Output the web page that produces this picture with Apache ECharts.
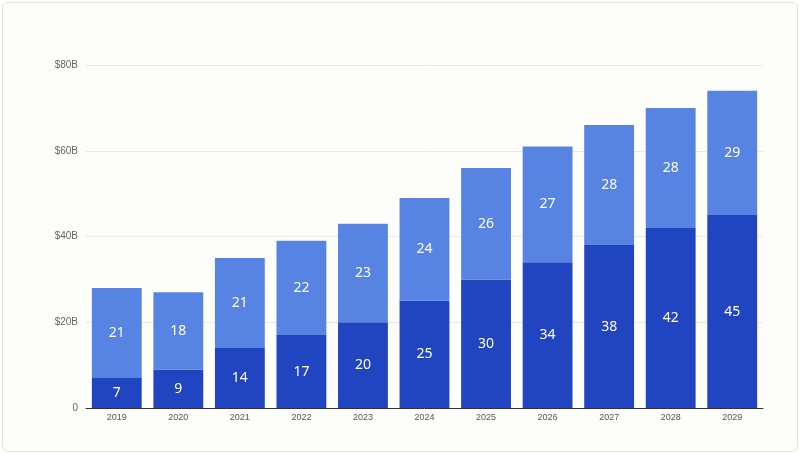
<!DOCTYPE html>
<html><head><meta charset="utf-8">
<script src="https://cdn.jsdelivr.net/npm/echarts@6/dist/echarts.min.js"></script>
<style>html,body{margin:0;padding:0;background:#fff;}
#wrap{position:absolute;left:2px;top:2px;width:794px;height:448px;border:1px solid #e4e6dc;border-radius:6px;background:#fdfefa;}
#c{width:794px;height:448px;}</style></head>
<body><div id="wrap"><div id="c"></div></div>
<script>
const years=['2019','2020','2021','2022','2023','2024','2025','2026','2027','2028','2029'];
const bottomVals=[7,9,14,17,20,25,30,34,38,42,45];
const topVals=[21,18,21,22,23,24,26,27,28,28,29];
const yTicks=[0,20,40,60,80];
const ch=echarts.init(document.getElementById('c'));
const lbl={show:true,position:'inside',color:'#fff',fontSize:14,fontFamily:'Noto Sans'};
ch.setOption({
 animation:false,
 grid:{left:83,right:34,top:62,bottom:43},
 xAxis:{type:'category',data:years,axisTick:{show:false},axisLine:{lineStyle:{color:'#333'}},
  axisLabel:{fontSize:9,color:'#555',margin:5}},
 yAxis:{type:'value',min:0,max:80,interval:20,
  axisLabel:{fontSize:10,color:'#666',formatter:v=>v===0?'0':'$'+v+'B'},
  splitLine:{lineStyle:{color:'#e8e8e8'}}},
 series:[
  {type:'bar',stack:'a',data:bottomVals,barWidth:'81%',itemStyle:{color:'#2144c0'},label:lbl},
  {type:'bar',stack:'a',data:topVals,barWidth:'81%',itemStyle:{color:'#5784e2'},label:lbl}
 ]});
</script></body></html>
